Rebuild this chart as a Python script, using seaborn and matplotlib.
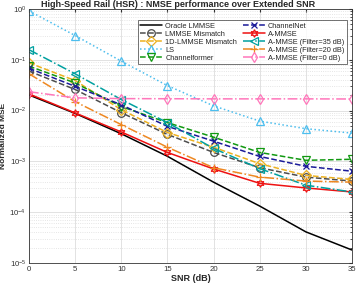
import numpy as np
import matplotlib
matplotlib.use('Agg')
import matplotlib.pyplot as plt
import seaborn as sns

snr = [0, 5, 10, 15, 20, 25, 30, 35]

oracle_lmmse = [0.0203, 0.0088, 0.0035, 0.00126, 0.00039, 0.000132, 4.1e-5, 1.8e-5]
lmmse_mismatch = [0.060, 0.026, 0.0091, 0.0034, 0.0015, 0.00075, 0.00049, 0.00041]
lmmse_1d = [0.087, 0.039, 0.0104, 0.0037, 0.0019, 0.0009, 0.00053, 0.00044]
ls = [0.92, 0.30, 0.094, 0.031, 0.0124, 0.0062, 0.0044, 0.0036]
channelformer = [0.075, 0.035, 0.012, 0.0058, 0.0030, 0.0015, 0.00105, 0.0011]
channelnet = [0.068, 0.030, 0.013, 0.0049, 0.0025, 0.00125, 0.0008, 0.00064]
ammse = [0.0213, 0.0090, 0.0038, 0.0015, 0.00071, 0.00037, 0.00030, 0.00025]
ammse_f35 = [0.158, 0.053, 0.0165, 0.0058, 0.0018, 0.00072, 0.00034, 0.00025]
ammse_f20 = [0.053, 0.015, 0.0053, 0.0019, 0.00075, 0.00049, 0.00041, 0.00039]
ammse_f0 = [0.0235, 0.0178, 0.0172, 0.0171, 0.0170, 0.0170, 0.0170, 0.0169]

series = [
    ('Oracle LMMSE', oracle_lmmse, 'black', '-', None),
    ('LMMSE Mismatch', lmmse_mismatch, '#4d4d4d', '--', 'o'),
    ('1D-LMMSE Mismatch', lmmse_1d, '#EDB120', '--', 'D'),
    ('LS', ls, '#4DBEEE', ':', '^'),
    ('Channelformer', channelformer, '#119911', '--', 'v'),
    ('ChannelNet', channelnet, '#1a1a99', '--', 'x'),
    ('A-MMSE', ammse, '#ee1111', '-', (6, 1, 0)),
    ('A-MMSE (Filter=35 dB)', ammse_f35, '#00a0a0', '-.', '<'),
    ('A-MMSE (Filter=20 dB)', ammse_f20, '#EE8822', '-.', '+'),
    ('A-MMSE (Filter=0 dB)', ammse_f0, '#FF77BB', '-.', 'd'),
]

sns.set_style('white')
plt.rcParams['font.family'] = ['Liberation Sans', 'DejaVu Sans']

fig = plt.figure(figsize=(3.57, 2.89), dpi=100)
ax = fig.add_axes([0.081, 0.09, 0.905, 0.879])

for name, vals, col, ls_, mk in series:
    sns.lineplot(x=snr, y=vals, ax=ax, color=col, linestyle=ls_, marker=mk,
                 markersize=5.5 if mk != 'x' else 4.5, markerfacecolor='none',
                 markeredgecolor=col, markeredgewidth=0.9, linewidth=1.1,
                 label=name)

ax.set_yscale('log')
ax.set_xlim(0, 35)
ax.set_ylim(1e-5, 1e0)
ax.set_xticks(snr)
ax.grid(True, which='major', color='#dddddd', linewidth=0.6)
ax.grid(True, which='minor', color='#dddddd', linestyle=':', linewidth=0.6)
ax.tick_params(which='both', direction='in', top=True, right=True,
               labelsize=5.6, colors='#333333', length=2.5, pad=2)
ax.tick_params(which='minor', length=1.5)
for sp in ax.spines.values():
    sp.set_color('#333333')
    sp.set_linewidth(0.6)

ax.set_xlabel('SNR (dB)', fontsize=6.5, fontweight='bold', labelpad=1)
ax.set_ylabel('Normalized MSE', fontsize=6.0, fontweight='bold')
ax.yaxis.set_label_coords(-0.068, 0.5)
fig.text(0.5, 1.0, 'High-Speed Rail (HSR) : NMSE performance over Extended SNR',
         ha='center', va='top', fontsize=6.5, fontweight='bold')

leg = ax.legend(ncol=2, loc='upper right', bbox_to_anchor=(0.995, 0.97),
                fontsize=5.3, frameon=True, fancybox=False, edgecolor='#333333',
                handlelength=3.0, labelspacing=0.12, columnspacing=0.8,
                borderpad=0.3, handletextpad=0.4)
leg.get_frame().set_linewidth(0.6)

fig.savefig('out.png', dpi=100)
